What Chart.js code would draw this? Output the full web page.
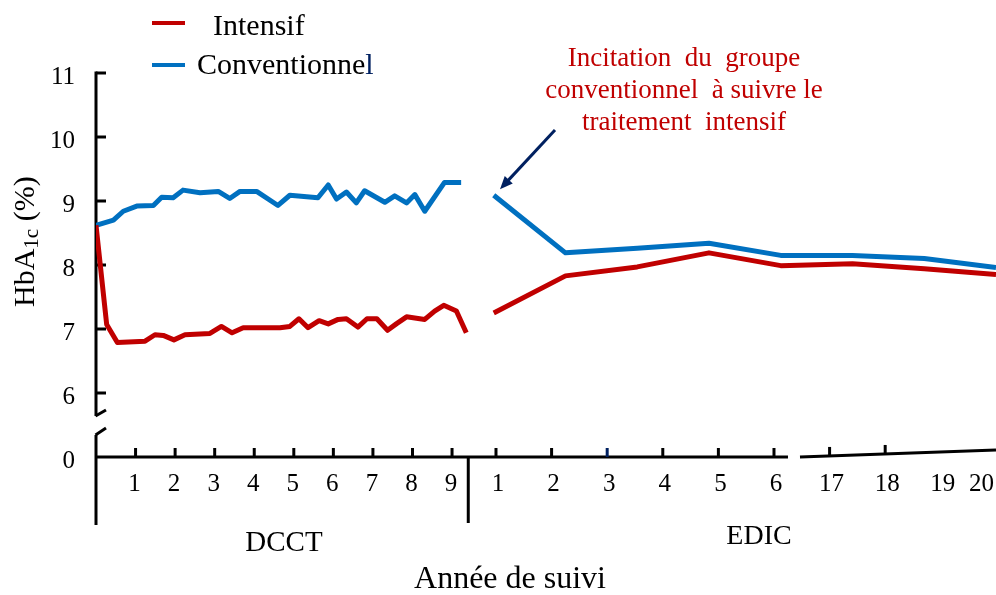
<!DOCTYPE html>
<html lang="fr">
<head>
<meta charset="utf-8">
<title>HbA1c - DCCT / EDIC</title>
<script src="https://cdn.jsdelivr.net/npm/chart.js@4.4.1/dist/chart.umd.min.js"></script>
<style>
    html, body { margin: 0; padding: 0; background: #fff; }
    #wrap { width: 996px; height: 595px; }
</style>
</head>
<body>
<div id="wrap"><canvas id="hba1cChart" width="996" height="595"></canvas></div>
<script>
// DCCT (années 0-9)
const dcctYearsInt = [0, 0.27, 0.54, 1.24, 1.49, 1.7, 1.97, 2.25, 2.88, 3.17, 3.44, 3.72, 4.65, 4.9, 5.13, 5.36,
    5.64, 5.87, 6.12, 6.33, 6.62, 6.85, 7.1, 7.37, 7.59, 7.85, 8.31, 8.56, 8.79, 9.11, 9.36];
const dcctInt = [8.62, 7.07, 6.79, 6.81, 6.91, 6.90, 6.83, 6.91, 6.93, 7.04, 6.94, 7.02, 7.02, 7.04, 7.16, 7.02,
    7.13, 7.08, 7.15, 7.16, 7.03, 7.16, 7.16, 6.98, 7.08, 7.19, 7.15, 7.28, 7.37, 7.28, 6.94];
const dcctYearsConv = [0, 0.44, 0.69, 1.03, 1.45, 1.66, 1.95, 2.2, 2.63, 3.09, 3.38, 3.64, 4.06, 4.6, 4.9, 5.61,
    5.87, 6.08, 6.33, 6.58, 6.79, 7.3, 7.55, 7.85, 8.06, 8.31, 8.81, 9.23];
const dcctConv = [8.62, 8.70, 8.84, 8.92, 8.93, 9.06, 9.05, 9.17, 9.13, 9.15, 9.04, 9.15, 9.15, 8.93, 9.09, 9.05,
    9.25, 9.03, 9.14, 8.97, 9.16, 8.98, 9.08, 8.97, 9.10, 8.84, 9.29, 9.29];

// EDIC (points de suivi, régulièrement espacés)
const edicVisits = [0, 1, 2, 3, 4, 5, 6, 7];
const edicInt = [7.25, 7.83, 7.97, 8.19, 7.99, 8.02, 7.94, 7.85];
const edicConv = [9.09, 8.19, 8.26, 8.34, 8.15, 8.15, 8.10, 7.96];

// 目盛り
const dcctTicks = [1, 2, 3, 4, 5, 6, 7, 8, 9];
const edicTickLabels = ['1', '2', '3', '4', '5', '6', '17', '18', '19', '20'];
const yTicks = [5, 6, 7, 8, 9, 10, 11];          // 5 = "0" (sous la coupure de l'axe)
const yTickLabels = ['0', '6', '7', '8', '9', '10', '11'];

const noteLines = ['Incitation  du  groupe', 'conventionnel  à suivre le', 'traitement  intensif'];

const FONT = '"Liberation Serif", "Times New Roman", serif';
const RED = '#C00000';
const BLUE = '#0070C0';
const NAVY = '#002060';

function toPoints(xs, ys) {
    return xs.map((x, i) => ({ x: x, y: ys[i] }));
}

function line(ctx, x1, y1, x2, y2) {
    ctx.beginPath();
    ctx.moveTo(x1, y1);
    ctx.lineTo(x2, y2);
    ctx.stroke();
}

// 軸(切れ目つき)の描画
const brokenAxes = {
    id: 'brokenAxes',
    beforeDatasetsDraw(chart) {
        const { ctx, chartArea } = chart;
        const { x, xk, y } = chart.scales;
        const left = x.getPixelForValue(0);
        const y0 = y.getPixelForValue(5);
        const y6 = y.getPixelForValue(6);
        ctx.save();
        ctx.strokeStyle = '#000';
        ctx.lineWidth = 3;

        // 縦軸 上側
        line(ctx, left, y.getPixelForValue(11) - 1.5, left, y6 + 23);
        line(ctx, left - 0.5, y6 + 23, left + 10, y6 + 17);
        // 縦軸 下側 + DCCT の区切り線
        line(ctx, left + 10, y0 - 29, left - 0.5, y0 - 22);
        line(ctx, left, y0 - 22, left, y0 + 68);
        yTicks.slice(1).forEach(v => {
            const py = y.getPixelForValue(v);
            line(ctx, left, py, left + 10, py);
        });

        // 横軸
        const edicEnd = xk.getPixelForValue(5) + 14;
        const slantStart = edicEnd + 12;
        const slantRise = 7;
        line(ctx, left, y0, edicEnd, y0);
        line(ctx, slantStart, y0, chartArea.right, y0 - slantRise);

        dcctTicks.forEach(v => {
            const px = x.getPixelForValue(v);
            line(ctx, px, y0, px, y0 - 9);
        });
        edicTickLabels.forEach((lab, i) => {
            const px = xk.getPixelForValue(i);
            if (i <= 5) {
                ctx.strokeStyle = i === 2 ? NAVY : '#000';
                line(ctx, px, y0, px, y0 - 9);
            } else if (i <= 7) {
                ctx.strokeStyle = '#000';
                const ys = y0 - slantRise * (px - slantStart) / (chartArea.right - slantStart);
                line(ctx, px, ys, px, ys - 9);
            }
        });
        ctx.strokeStyle = '#000';

        // DCCT | EDIC の区切り
        const split = x.getPixelForValue(9.41);
        line(ctx, split, y0, split, y0 + 66);
        ctx.restore();
    },
    afterDraw(chart) {
        const { ctx, chartArea } = chart;
        const { x, xk, y } = chart.scales;
        const y0 = y.getPixelForValue(5);
        ctx.save();
        ctx.fillStyle = '#000';
        ctx.textAlign = 'center';
        ctx.textBaseline = 'middle';

        // 横軸ラベル
        ctx.font = '25px ' + FONT;
        dcctTicks.forEach(v => {
            ctx.fillText(String(v), x.getPixelForValue(v) - 1, y0 + 27);
        });
        edicTickLabels.forEach((lab, i) => {
            const w = ctx.measureText(lab).width;
            let px = xk.getPixelForValue(i) + 2;
            px = Math.min(px, chartArea.right - 2 - w / 2);
            ctx.fillText(lab, px, y0 + 27);
        });

        ctx.font = '29px ' + FONT;
        ctx.fillText('DCCT', 284, 543);
        ctx.font = '28px ' + FONT;
        ctx.fillText('EDIC', 759, 537);
        ctx.font = '32px ' + FONT;
        ctx.fillText('Année de suivi', 510, 580);

        // 縦軸タイトル HbA1c (%)
        ctx.save();
        ctx.translate(34, 307);
        ctx.rotate(-Math.PI / 2);
        ctx.textAlign = 'left';
        ctx.textBaseline = 'alphabetic';
        ctx.font = '30px ' + FONT;
        ctx.fillText('HbA', 0, 0);
        let off = ctx.measureText('HbA').width;
        ctx.font = '21px ' + FONT;
        ctx.fillText('1c', off, 4);
        off += ctx.measureText('1c').width;
        ctx.font = '30px ' + FONT;
        ctx.fillText(' (%)', off, 0);
        ctx.restore();

        // 凡例
        const ds = chart.data.datasets;
        ctx.textAlign = 'left';
        ctx.textBaseline = 'alphabetic';
        ctx.font = '30px ' + FONT;
        ctx.lineWidth = 4;
        ctx.strokeStyle = RED;
        line(ctx, 152, 23, 185, 23);
        ctx.fillText(ds[0].label, 213, 35);
        ctx.strokeStyle = BLUE;
        line(ctx, 152, 65, 185, 65);
        const conv = ds[1].label;
        ctx.fillText(conv.slice(0, -1), 197, 74);
        ctx.fillStyle = NAVY;
        ctx.fillText(conv.slice(-1), 197 + ctx.measureText(conv.slice(0, -1)).width, 74);

        // 注記
        ctx.fillStyle = RED;
        ctx.textAlign = 'center';
        ctx.font = '27px ' + FONT;
        noteLines.forEach((t, i) => ctx.fillText(t, 684, 66 + i * 32));

        // 矢印
        const ax = xk.getPixelForValue(0), ay = y.getPixelForValue(edicConv[0]);
        const tipX = ax + 4, tipY = ay - 6;
        const fromX = 555, fromY = 130;
        const ang = Math.atan2(tipY - fromY, tipX - fromX);
        ctx.strokeStyle = NAVY;
        ctx.fillStyle = NAVY;
        ctx.lineWidth = 3;
        line(ctx, fromX, fromY, tipX - 8 * Math.cos(ang), tipY - 8 * Math.sin(ang));
        ctx.beginPath();
        ctx.moveTo(tipX, tipY);
        ctx.lineTo(tipX - 14 * Math.cos(ang - 0.4), tipY - 14 * Math.sin(ang - 0.4));
        ctx.lineTo(tipX - 14 * Math.cos(ang + 0.4), tipY - 14 * Math.sin(ang + 0.4));
        ctx.closePath();
        ctx.fill();
        ctx.restore();
    }
};

document.addEventListener('DOMContentLoaded', function() {
    const ctx = document.getElementById('hba1cChart');
    const lineStyle = { borderWidth: 5, pointRadius: 0, tension: 0, borderJoinStyle: 'round', fill: false };

    new Chart(ctx, {
        type: 'line',
        data: {
            datasets: [
                Object.assign({ label: 'Intensif', data: toPoints(dcctYearsInt, dcctInt), xAxisID: 'x', borderColor: RED }, lineStyle),
                Object.assign({ label: 'Conventionnel', data: toPoints(dcctYearsConv, dcctConv), xAxisID: 'x', borderColor: BLUE }, lineStyle),
                Object.assign({ label: 'Intensif EDIC', data: toPoints(edicVisits, edicInt), xAxisID: 'xe', borderColor: RED }, lineStyle),
                Object.assign({ label: 'Conventionnel EDIC', data: toPoints(edicVisits, edicConv), xAxisID: 'xe', borderColor: BLUE }, lineStyle)
            ]
        },
        options: {
            responsive: false,
            animation: false,
            events: [],
            layout: { padding: { top: 73, right: 0, bottom: 138, left: 0 } },
            plugins: {
                legend: { display: false },
                tooltip: { enabled: false }
            },
            scales: {
                // DCCT : années
                x: { type: 'linear', display: false, min: 0, max: 22.75 },
                // EDIC : points de suivi
                xe: { type: 'linear', display: false, min: -5.543, max: 7 },
                // EDIC : graduations
                xk: { type: 'linear', display: false, min: -7.194, max: 8.993 },
                y: {
                    type: 'linear',
                    min: 5,
                    max: 11,
                    afterBuildTicks: scale => {
                        scale.ticks = yTicks.map(v => ({ value: v }));
                    },
                    afterFit: scale => {
                        scale.width = 96;
                    },
                    ticks: {
                        callback: value => yTickLabels[yTicks.indexOf(value)],
                        font: { family: FONT, size: 25 },
                        color: '#000',
                        padding: 21,
                        labelOffset: 4,
                        autoSkip: false
                    },
                    grid: { display: false, drawTicks: false },
                    border: { display: false }
                }
            }
        },
        plugins: [brokenAxes]
    });
});
</script>
</body>
</html>
